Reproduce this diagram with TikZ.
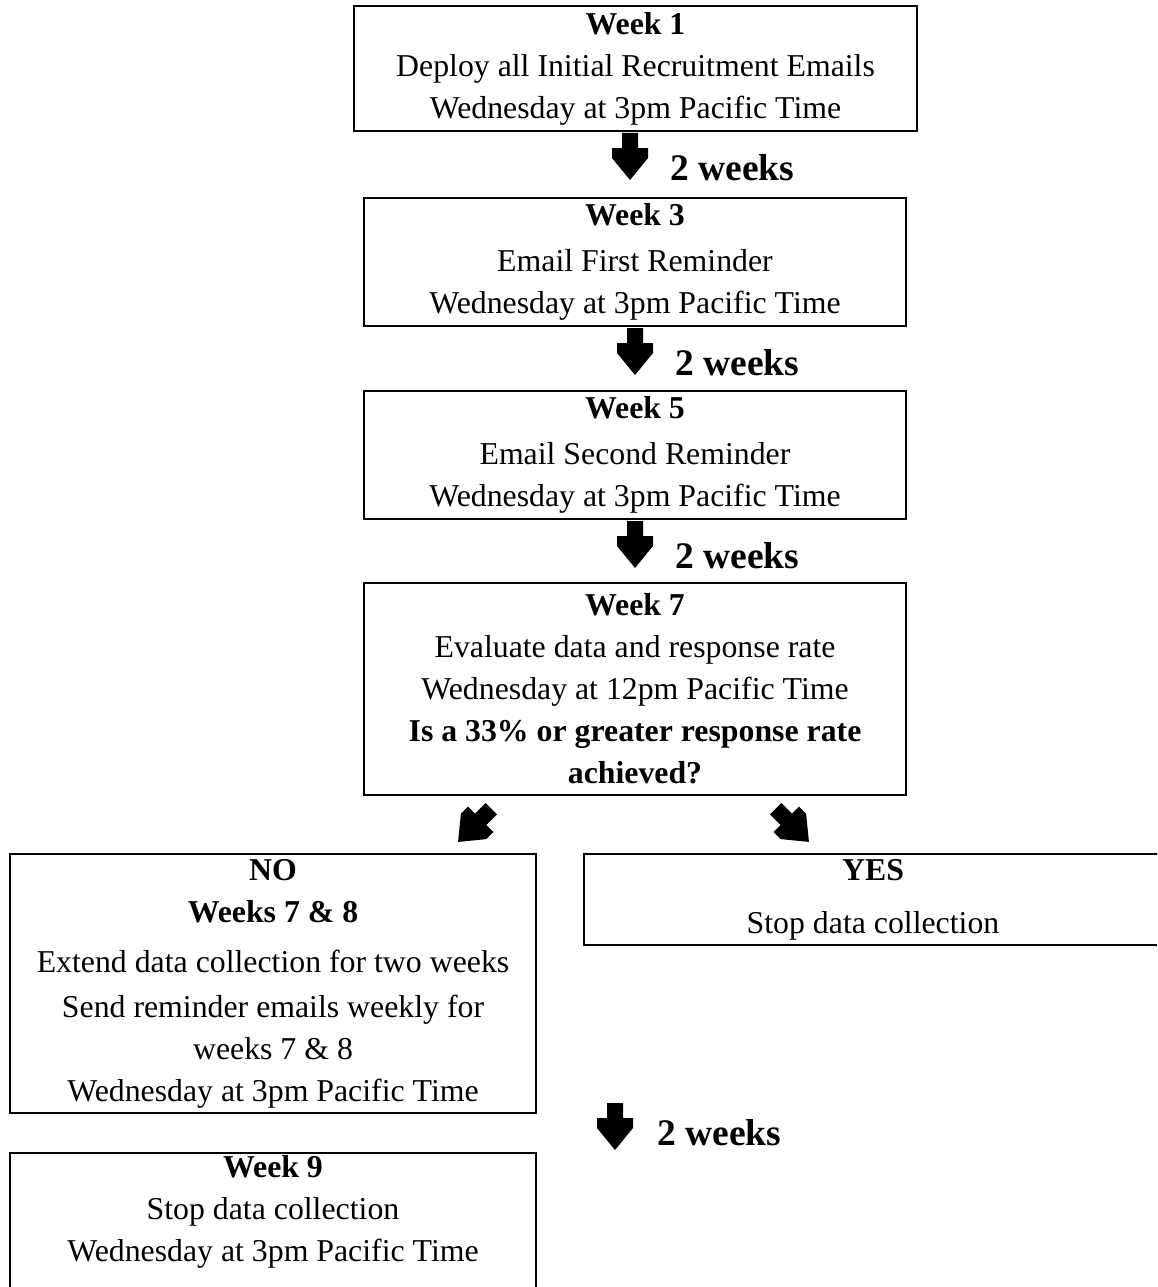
\documentclass[tikz,border=0pt]{standalone}
\usepackage{fontspec}
\setmainfont{Liberation Serif}
\newcommand\bodyfnt{\fontsize{31.8}{42}\selectfont}
\newcommand\wkfnt{\fontsize{37.5}{45}\selectfont\bfseries}
\begin{document}
\begin{tikzpicture}[x=1pt,y=-1pt,
  box/.style={draw, line width=2.4pt, align=center, inner sep=0pt, font=\bodyfnt},
  txt/.style={align=center, inner sep=0pt, font=\bodyfnt},
  frame/.style={draw, line width=2.4pt},
  wk/.style={font=\wkfnt, anchor=base west, inner sep=0pt},
  barrow/.pic={\fill (-8,0) -- (8,0) -- (8,15) -- (18,15) -- (18,25) -- (0,47) -- (-18,25) -- (-18,15) -- (-8,15) -- cycle;}]
\useasboundingbox (0,0) rectangle (1157,1287);
\clip (0,0) rectangle (1157,1287);
\fill[white] (0,0) rectangle (1157,1287);

\node[box, minimum width=563pt, minimum height=125pt] (w1) at (635.5,68.5)
  {\textbf{Week 1}\\Deploy all Initial Recruitment Emails\\Wednesday at 3pm Pacific Time};
\node[box, minimum width=542pt, minimum height=128pt] (w3) at (635,262)
  {\textbf{Week 3}\\[4pt]Email First Reminder\\Wednesday at 3pm Pacific Time};
\node[box, minimum width=542pt, minimum height=128pt] (w5) at (635,455)
  {\textbf{Week 5}\\[4pt]Email Second Reminder\\Wednesday at 3pm Pacific Time};
\node[box, minimum width=542pt, minimum height=212pt] (w7) at (635,689)
  {\textbf{Week 7}\\Evaluate data and response rate\\Wednesday at 12pm Pacific Time\\\textbf{Is a 33\% or greater response rate}\\\textbf{achieved?}};
\node[box, minimum width=526pt, minimum height=259pt] (no) at (273,983.5)
  {\textbf{NO}\\\textbf{Weeks 7 \& 8}\\[8pt]Extend data collection for two weeks\\[3pt]Send reminder emails weekly for\\weeks 7 \& 8\\Wednesday at 3pm Pacific Time};
\node[box, minimum width=578pt, minimum height=91pt] (yes) at (873,899.5)
  {\textbf{YES}\\[11pt]Stop data collection};
\draw[frame] (10,1153) rectangle (536,1300);
\node[txt] (w9) at (273,1212)
  {\textbf{Week 9}\\Stop data collection\\Wednesday at 3pm Pacific Time};

\pic at (630,133) {barrow};
\pic at (635,328) {barrow};
\pic at (635,521) {barrow};
\pic[rotate=-45] at (491.3,808.7) {barrow};
\pic[rotate=45] at (775.7,808.7) {barrow};
\pic at (615,1103) {barrow};

\node[wk] (l1) at (670,180) {2 weeks};
\node[wk] (l2) at (675,375) {2 weeks};
\node[wk] (l3) at (675,568) {2 weeks};
\node[wk] (l4) at (657,1145) {2 weeks};
\end{tikzpicture}
\end{document}
